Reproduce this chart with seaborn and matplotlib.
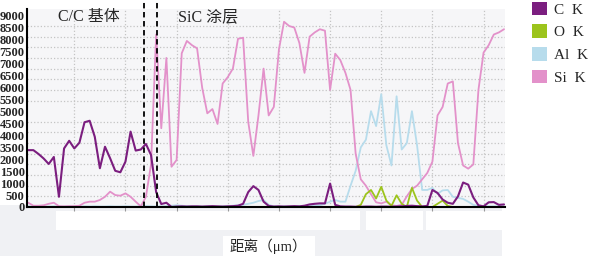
import numpy as np
import pandas as pd
import matplotlib
matplotlib.use('Agg')
import matplotlib.pyplot as plt
from matplotlib.patches import Patch, Rectangle
import seaborn as sns

sns.set_theme(style="white")
plt.rcParams['font.family'] = ['Liberation Serif', 'Noto Sans CJK SC']

# line scan, one sample every 0.1 unit
dist = np.round(np.arange(1, 95) * 0.1, 2)

c_k = [2670, 2670, 2490, 2280, 2020, 2350, 480, 2750, 3110, 2750,
       3020, 3980, 4050, 3300, 1820, 2830, 2290, 1700, 1630, 2130,
       3540, 2650, 2700, 2960, 2440, 700, 140, 200, 0, 20,
       30, 20, 30, 30, 20, 30, 40, 30, 20, 30,
       40, 60, 150, 700, 980, 800, 250, 50, 20, 30,
       20, 30, 40, 30, 60, 120, 150, 170, 170, 1100,
       100, 30, 20, 20, 10, 10, 20, 20, 10, 20,
       20, 10, 20, 30, 50, 60, 40, 30, 50, 800,
       660, 350, 200, 150, 500, 1150, 1050, 450, 80, 30,
       220, 230, 100, 120]

o_k = [np.nan, np.nan, np.nan, np.nan, np.nan, np.nan, np.nan, np.nan, np.nan, np.nan,
       np.nan, np.nan, np.nan, np.nan, np.nan, np.nan, np.nan, np.nan, np.nan, np.nan,
       np.nan, np.nan, np.nan, 0, 0, 0, 0, 0, 0, 0,
       0, 0, 0, 0, 0, 0, 0, 0, 0, 0,
       0, 0, 0, 0, 0, 0, 0, 0, 0, 0,
       0, 0, 0, 0, 0, 0, 0, 0, 0, 0,
       0, 0, 0, 0, 0, 100, 600, 800, 400, 950,
       300, 50, 550, 150, 0, 900, 300, 0, 0, 0,
       150, 300, 50, 0, 0, 0, 0, 0, 0, 0,
       0, 0, 0, 0]

al_k = [30, 20, 30, 20, 20, 30, 20, 20, 30, 20,
        20, 30, 20, 30, 20, 20, 30, 20, 20, 30,
        20, 20, 30, 40, 30, 20, 30, 40, 60, 80,
        60, 40, 30, 30, 20, 30, 30, 20, 30, 40,
        60, 80, 100, 150, 200, 280, 330, 100, 30, 20,
        30, 20, 30, 40, 30, 40, 60, 80, 150, 250,
        330, 250, 250, 1000, 1700, 2800, 3160, 4500, 3800, 5300,
        2900, 1950, 5200, 2700, 3000, 4500, 2900, 800, 800, 900,
        620, 780, 800, 480, 430, 380, 250, 100, 50, 30,
        30, 30, 30, 30]

si_k = [200, 60, 60, 80, 150, 200, 40, 30, 40, 40,
        60, 200, 250, 250, 330, 480, 720, 560, 530, 640,
        480, 250, 30, 480, 2000, 8100, 3700, 7000, 1890, 2210,
        7220, 7800, 7600, 7450, 5600, 4400, 4600, 3900, 5800, 6100,
        6500, 7900, 7950, 4000, 2400, 4300, 6500, 4300, 4700, 7400,
        8700, 8500, 8430, 7700, 6300, 8000, 8200, 8350, 8280, 5500,
        7200, 6900, 6300, 5500, 2500, 1300, 1000, 600, 220, 170,
        250, 80, 50, 100, 500, 850, 1000, 1300, 1600, 2130,
        4300, 4700, 5800, 5900, 3000, 1950, 1800, 2000, 5500, 7250,
        7600, 8100, 8200, 8350]

series = ['C  K', 'O  K', 'Al  K', 'Si  K']
colors = ['#7b1e7f', '#9cc41c', '#b7dcec', '#e391ca']

ytick_labels = ['0', '500', '1000', '1500', '2000', '3500', '4000', '4500', '5000',
                '5500', '6000', '6500', '7000', '7500', '8000', '8500', '9000']

df = pd.DataFrame({'dist': dist, 'C  K': c_k, 'O  K': o_k, 'Al  K': al_k, 'Si  K': si_k})
long = df.melt(id_vars='dist', var_name='element', value_name='counts').dropna()

fig = plt.figure(figsize=(5.9, 2.59), dpi=100)

# light band under the axis, with the white boxes that hide the old tick labels
fig.patches.append(Rectangle((0, 0.012), 502 / 590, 0.197, transform=fig.transFigure,
                             facecolor='#f0f1f4', edgecolor='none', zorder=-2))
for x0, x1 in [(56, 360), (366, 423), (426, 502)]:
    fig.patches.append(Rectangle((x0 / 590, 1 - 230 / 259), (x1 - x0) / 590, 19 / 259,
                                 transform=fig.transFigure, facecolor='white',
                                 edgecolor='none', zorder=-1))
fig.patches.append(Rectangle((223 / 590, 0), 92 / 590, 23 / 259, transform=fig.transFigure,
                             facecolor='white', edgecolor='none', zorder=-1))

ax = fig.add_axes([0.0453, 0.2008, 0.8107, 0.7645])
ax.set_facecolor('#f6f6f8')

draw_order = ['Al  K', 'Si  K', 'O  K', 'C  K']
pal = dict(zip(series, colors))
for name in draw_order:
    sub = long[long['element'] == name]
    sns.lineplot(data=sub, x='dist', y='counts', ax=ax, color=pal[name],
                 lw=1.5 if name == 'C  K' else 1.3, sort=False, estimator=None,
                 legend=False)

ax.set_xlim(0.07, 9.42)
ax.set_ylim(0, 9300)

ax.set_yticks(np.linspace(0, 9000, 17))
ax.set_yticklabels(ytick_labels, fontsize=9, fontweight='bold')
ax.set_yticks(np.arange(500, 9001, 500), minor=True)
ax.set_xticks(np.arange(1, 10))
ax.set_xticklabels([])
ax.tick_params(axis='y', which='both', length=0, pad=1.5)
ax.tick_params(axis='x', which='major', length=3, width=0.8, color='#999999',
               direction='out', bottom=True)
ax.grid(False)
ax.yaxis.grid(True, which='minor', ls=':', color='#c4c4c4', lw=0.9)
ax.xaxis.grid(True, which='major', ls=':', color='#c4c4c4', lw=0.9)
ax.set_axisbelow(True)
ax.set_xlabel('')
ax.set_ylabel('')

for side in ['top', 'right']:
    ax.spines[side].set_visible(False)
for side in ['left', 'bottom']:
    ax.spines[side].set_color('black')
    ax.spines[side].set_linewidth(1.5)

for xv in [2.37, 2.61]:
    ax.axvline(xv, ymin=0, ymax=1.045, clip_on=False, color='black',
               ls=(0, (3, 2)), lw=1.3)

fig.text(89 / 590, 1 - 17.5 / 259, 'C/C 基体', ha='center', va='center', fontsize=11.5)
fig.text(208 / 590, 1 - 17.5 / 259, 'SiC 涂层', ha='center', va='center', fontsize=11.5)
fig.text(268 / 590, 1 - 246 / 259, '距离（μm）', ha='center', va='center', fontsize=10.5)

handles = [Patch(facecolor=c, edgecolor='none') for c in colors]
fig.legend(handles, series, loc='upper left', bbox_to_anchor=(530 / 590, 1.0),
           frameon=False, fontsize=11, handlelength=1.0, handleheight=1.0,
           handletextpad=0.5, labelspacing=0.5, borderaxespad=0, borderpad=0.1)

fig.savefig('out.png', dpi=100)
